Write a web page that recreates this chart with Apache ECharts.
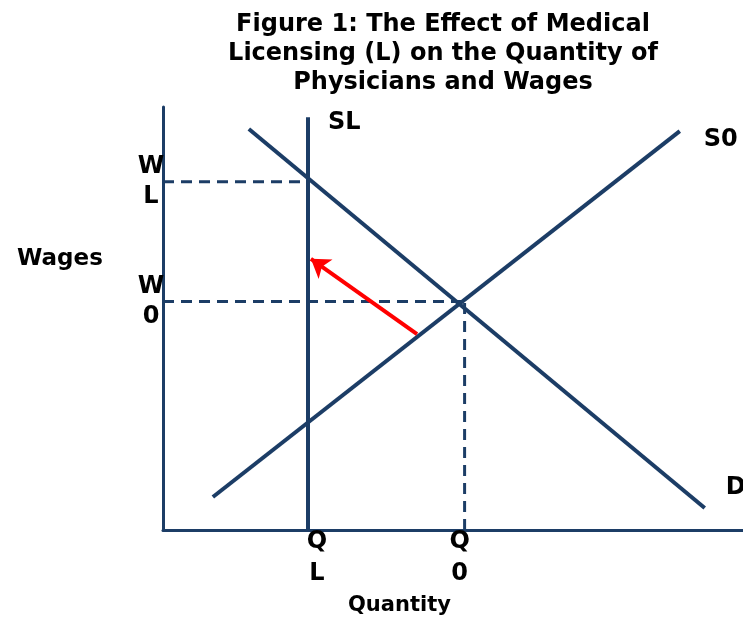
<!DOCTYPE html>
<html>
<head>
<meta charset="utf-8">
<script src="https://cdn.jsdelivr.net/npm/echarts@6/dist/echarts.min.js"></script>
<style>
  html, body { margin: 0; padding: 0; background: #fff; }
  #chart { width: 743px; height: 619px; }
</style>
</head>
<body>
<div id="chart"></div>
<script>
// values, axes run 0..100
const demandQ = [14.8, 93.4];
const demandW = [94.8, 5.2];
const supplyQ = [8.6, 89.1];
const supplyW = [7.8, 94.3];
const licensedQ = [25, 25];
const licensedW = [0, 97.6];
const wageL = 82.3;
const wage0 = 54;
const quantityL = 25;
const quantity0 = 52;
const shiftFrom = [43.8, 46.3];
const shiftTo = [25.5, 64.1];

const navy = "#1c3d66";
const font = "DejaVu Sans";

function pairs(xs, ys) {
  return xs.map((x, i) => [x, ys[i]]);
}

const curve = (name, xs, ys, offset) => ({
  name: name,
  type: "line",
  data: pairs(xs, ys),
  symbol: "none",
  lineStyle: { color: navy, width: 4 },
  endLabel: {
    show: true,
    formatter: "{a}",
    offset: offset,
    color: "#000",
    fontFamily: font,
    fontWeight: "bold",
    fontSize: 24,
  },
  z: 3,
});

const dashed = (data) => ({
  type: "line",
  data: data,
  symbol: "none",
  lineStyle: { color: navy, width: 3, type: [11, 7] },
  z: 2,
});

let option = {
  animation: false,
  backgroundColor: "#fff",
  title: {
    text: "Figure 1: The Effect of Medical\nLicensing (L) on the Quantity of\nPhysicians and Wages",
    left: 438,
    top: 5,
    textAlign: "center",
    textStyle: {
      fontFamily: font,
      fontWeight: "bold",
      fontSize: 24,
      lineHeight: 29,
      color: "#000",
    },
  },
  grid: { left: 163, right: 0, top: 107, bottom: 89 },
  xAxis: {
    type: "value",
    min: 0,
    max: 100,
    splitLine: { show: false },
    axisTick: { show: false },
    axisLine: { lineStyle: { color: navy, width: 3 } },
    axisLabel: {
      customValues: [quantityL, quantity0],
      margin: -4,
      formatter: (v) => (v === quantityL ? "{ql|Q\nL}" : "{q0|Q\n0}"),
      rich: {
        ql: { padding: [0, 0, 0, 18], fontFamily: font, fontWeight: "bold", fontSize: 24, lineHeight: 32, color: "#000" },
        q0: { padding: [0, 10, 0, 0], fontFamily: font, fontWeight: "bold", fontSize: 24, lineHeight: 32, color: "#000" },
      },
    },
  },
  yAxis: {
    type: "value",
    min: 0,
    max: 100,
    splitLine: { show: false },
    axisTick: { show: false },
    axisLine: { lineStyle: { color: navy, width: 3 } },
    axisLabel: {
      customValues: [wage0, wageL],
      margin: 12,
      align: "center",
      formatter: (v) => (v === wageL ? "W\nL" : "W\n0"),
      fontFamily: font,
      fontWeight: "bold",
      fontSize: 24,
      lineHeight: 30,
      color: "#000",
    },
  },
  graphic: [
    {
      type: "text",
      left: 57 - 40,
      top: 248,
      style: { text: "Wages", fontFamily: font, fontWeight: "bold", fontSize: 23, fill: "#000", width: 80, align: "center" },
    },
    {
      type: "text",
      left: 348,
      top: 595,
      style: { text: "Quantity", fontFamily: font, fontWeight: "bold", fontSize: 21, fill: "#000" },
    },
  ],
  series: [
    curve("D", demandQ, demandW, [13, -20]),
    curve("S0", supplyQ, supplyW, [16, 9]),
    curve("SL", licensedQ, licensedW, [12, 6]),
    dashed([[0, wageL], [quantityL, wageL]]),
    dashed([[0, wage0], [quantity0, wage0]]),
    dashed([[quantity0, 0], [quantity0, wage0]]),
    {
      type: "lines",
      coordinateSystem: "cartesian2d",
      symbol: ["none", "arrow"],
      symbolSize: 18,
      lineStyle: { color: "#ff0000", width: 4, opacity: 1 },
      data: [{ coords: [shiftFrom, shiftTo] }],
      z: 4,
    },
  ],
};

let myChart = echarts.init(document.getElementById("chart"));
myChart.setOption(option);
</script>
</body>
</html>
